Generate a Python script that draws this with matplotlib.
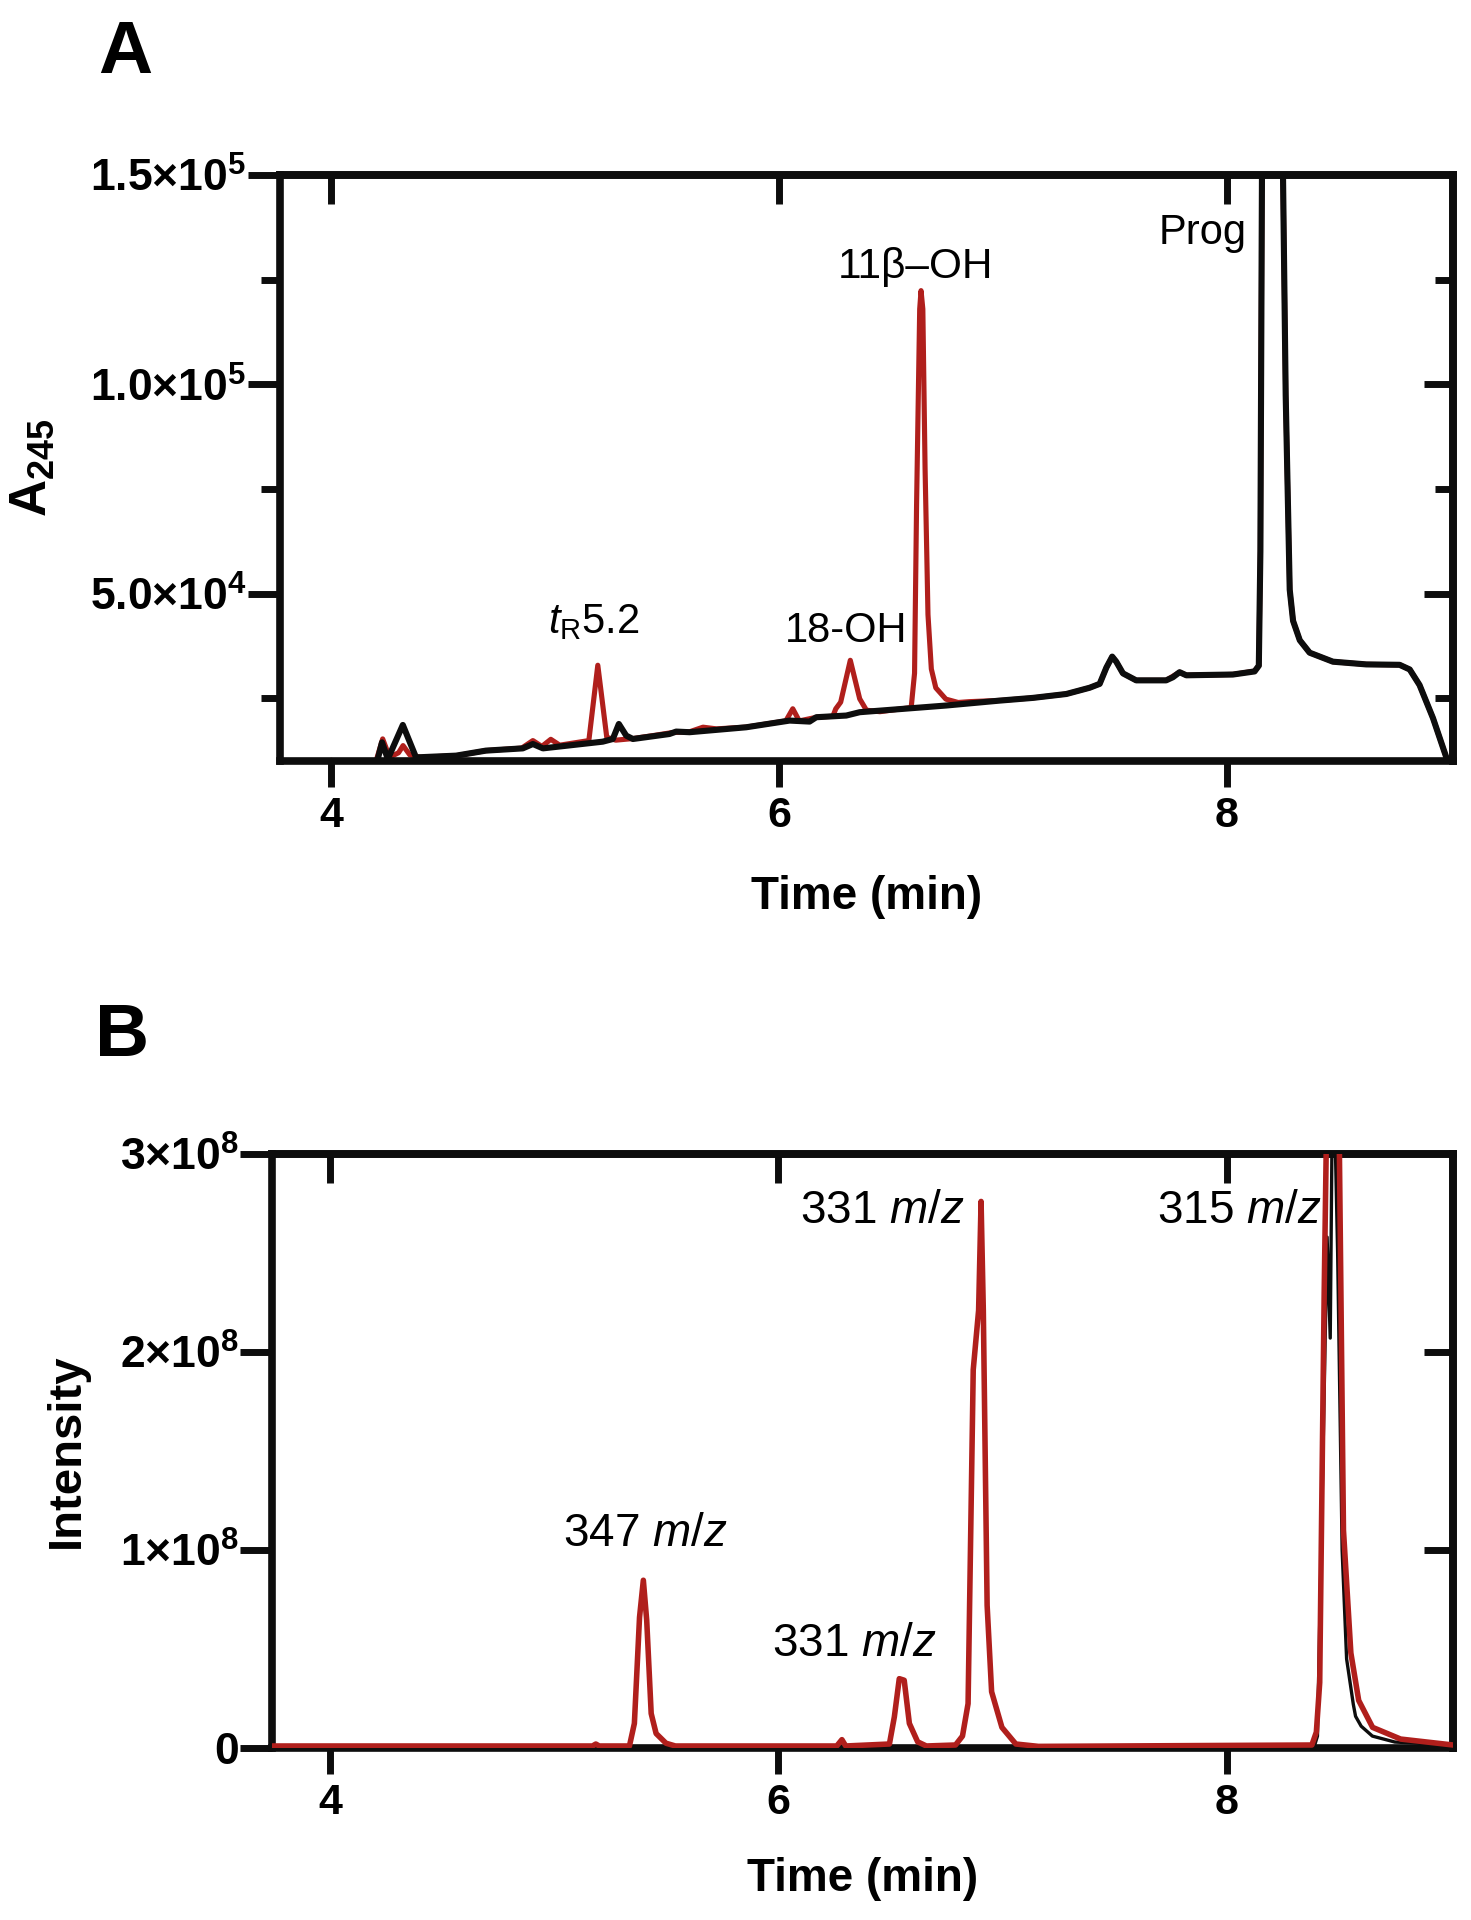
import matplotlib
matplotlib.use("Agg")
import matplotlib.pyplot as plt
from matplotlib.ticker import NullFormatter

plt.rcParams['font.family'] = ['Liberation Sans', 'DejaVu Sans']
plt.rcParams['mathtext.fontset'] = 'custom'
plt.rcParams['mathtext.rm'] = 'Liberation Sans'
plt.rcParams['mathtext.it'] = 'Liberation Sans:italic'
plt.rcParams['mathtext.bf'] = 'Liberation Sans:bold'

RED = '#b01f1c'
BLACK = '#0d0d0d'

# ---- Panel A: UV trace (A245) ----
a_black_t = [4.20, 4.226, 4.252, 4.319, 4.378, 4.557, 4.69, 4.855, 4.90, 4.945,
             5.212, 5.257, 5.284, 5.317, 5.347, 5.51, 5.54, 5.60, 5.853, 6.047,
             6.136, 6.166, 6.30, 6.36, 6.747, 6.985, 7.134, 7.283, 7.387, 7.432,
             7.462, 7.488, 7.506, 7.536, 7.595, 7.729, 7.759, 7.789, 7.819, 8.027,
             8.124, 8.143, 8.150, 8.157, 8.205, 8.251, 8.263, 8.281, 8.296, 8.326,
             8.37, 8.474, 8.623, 8.772, 8.817, 8.861, 8.921, 8.98, 9.01]
a_black_y = [9000, 14480, 10500, 18630, 10880, 11300, 12500, 13040, 14080, 13040,
             14640, 15270, 18870, 16080, 15280, 16470, 17050, 16900, 18080, 19680,
             19440, 20480, 20880, 21680, 23280, 24450, 25100, 26030, 27520, 28450,
             32350, 34960, 33750, 30960, 29290, 29290, 30030, 31240, 30500, 30680,
             31420, 32800, 60250, 150000, 700000, 150000, 97450, 50950, 43500, 38870,
             35900, 33750, 33100, 33000, 31890, 28170, 20270, 10970, 7000]

a_red_t = [3.95, 4.00, 4.05, 4.19, 4.205, 4.229, 4.26, 4.30, 4.32, 4.35,
           4.40, 4.56, 4.69, 4.85, 4.90, 4.94, 4.98, 5.02, 5.15, 5.19,
           5.23, 5.27, 5.35, 5.45, 5.52, 5.60, 5.66, 5.72, 5.85, 6.03,
           6.061, 6.09, 6.17, 6.24, 6.253, 6.275, 6.318, 6.36, 6.39, 6.45,
           6.59, 6.605, 6.614, 6.628, 6.634, 6.642, 6.652, 6.665, 6.68, 6.70,
           6.745, 6.80, 6.85, 6.99, 7.134, 7.283, 7.387, 7.432, 7.462, 7.488,
           7.506, 7.536, 7.595, 7.729, 7.789, 7.819, 8.027, 8.124, 8.143, 8.150,
           8.157, 8.205, 8.251, 8.263, 8.281, 8.296, 8.326, 8.37, 8.474, 8.623,
           8.772, 8.817, 8.861, 8.921, 8.98, 9.01]
a_red_y = [8000, 10200, 8000, 8000, 11000, 15300, 10900, 12000, 13700, 11500,
           10900, 11300, 12500, 13100, 14900, 13500, 15200, 13800, 14900, 32900,
           15700, 15000, 15400, 16200, 16800, 17000, 18100, 17700, 18100, 19600,
           22500, 19600, 20500, 20700, 22480, 24080, 34080, 24880, 22160, 21800,
           22800, 31000, 71000, 118000, 122400, 118000, 80000, 45000, 32000, 27500,
           24800, 24000, 24200, 24500, 25100, 26030, 27520, 28450, 32350, 34960,
           33750, 30960, 29290, 29290, 31240, 30500, 30700, 31500, 32800, 60250,
           150000, 700000, 150000, 97450, 50950, 43500, 38870, 35900, 33750, 33100,
           33000, 31890, 28170, 20270, 10970, 7000]

a_yticks = [5e4, 1e5, 1.5e5]
a_yminor = [2.5e4, 7.5e4, 1.25e5]
a_ylabels = [r'$\mathbf{5.0{\times}10^{4}}$', r'$\mathbf{1.0{\times}10^{5}}$',
             r'$\mathbf{1.5{\times}10^{5}}$']

# ---- Panel B: MS intensity ----
b_red_t = [3.74, 5.17, 5.185, 5.20, 5.335, 5.357, 5.38, 5.397, 5.412, 5.432,
           5.454, 5.498, 5.54, 6.26, 6.283, 6.30, 6.495, 6.517, 6.539, 6.561,
           6.584, 6.621, 6.66, 6.79, 6.821, 6.846, 6.869, 6.893, 6.904, 6.914,
           6.931, 6.951, 6.997, 7.059, 7.16, 8.38, 8.40, 8.415, 8.435, 8.445,
           8.475, 8.502, 8.521, 8.554, 8.589, 8.651, 8.776, 9.01]
b_red_y = [1.0e6, 1.0e6, 2.0e6, 1.0e6, 1.0e6, 1.24e7, 6.6e7, 8.47e7, 6.45e7, 1.74e7,
           7.3e6, 2.4e6, 1.0e6, 1.0e6, 4.2e6, 1.0e6, 2.0e6, 1.57e7, 3.5e7, 3.42e7,
           1.24e7, 3.1e6, 1.0e6, 1.5e6, 6.0e6, 2.24e7, 1.91e8, 2.21e8, 2.76e8, 2.21e8,
           7.2e7, 2.84e7, 1.04e7, 2.0e6, 0.8e6, 1.5e6, 8.0e6, 3.3e7, 2.3e8, 3.1e8,
           3.9e8, 3.1e8, 1.1e8, 4.8e7, 2.4e7, 1.04e7, 4.5e6, 1.5e6]

b_black_t = [3.74, 8.39, 8.405, 8.425, 8.448, 8.462, 8.474, 8.495, 8.515, 8.535,
             8.565, 8.575, 8.60, 8.65, 8.75, 9.01]
b_black_y = [0.5e6, 0.5e6, 6.0e6, 1.2e8, 2.58e8, 2.07e8, 3.6e8, 2.5e8, 1.0e8, 4.5e7,
             2.2e7, 1.6e7, 1.1e7, 6.0e6, 3.0e6, 1.5e6]

b_yticks = [0, 1e8, 2e8, 3e8]
b_ylabels = [r'$\mathbf{0}$', r'$\mathbf{1{\times}10^{8}}$', r'$\mathbf{2{\times}10^{8}}$',
             r'$\mathbf{3{\times}10^{8}}$']

xticks = [4, 6, 8]
xlabels = ['4', '6', '8']

fig = plt.figure(figsize=(14.71, 19.2), dpi=100)
axA = fig.add_axes([0.1903, 0.6036, 0.7974, 0.3052])
axB = fig.add_axes([0.1849, 0.0896, 0.8029, 0.3094])

SPW = 5.5
TKW = 5.0


def style_axes(ax, xlim, ylim, yticks, ylabels, yminor=None):
    ax.set_xlim(*xlim)
    ax.set_ylim(*ylim)
    for s in ax.spines.values():
        s.set_linewidth(SPW)
        s.set_color(BLACK)
    ax.set_xticks(xticks)
    ax.set_xticklabels(xlabels, fontweight='bold')
    ax.set_yticks(yticks)
    ax.set_yticklabels(ylabels)
    ax.tick_params(axis='x', which='major', direction='out', length=19, width=TKW,
                   labelsize=31, pad=6, color=BLACK)
    ax.tick_params(axis='y', which='major', direction='out', length=23, width=TKW,
                   labelsize=32, pad=1, color=BLACK)
    if yminor is not None:
        ax.set_yticks(yminor, minor=True)
        ax.tick_params(axis='y', which='minor', direction='out', length=14, width=TKW,
                       color=BLACK)
    # mirrored ticks pointing inward on top and right
    top = ax.secondary_xaxis('top')
    top.set_xticks(xticks)
    top.xaxis.set_major_formatter(NullFormatter())
    top.tick_params(direction='in', length=21, width=TKW, color=BLACK)
    top.spines['top'].set_linewidth(SPW)
    right = ax.secondary_yaxis('right')
    major_in = [t for t in yticks if ylim[0] < t < ylim[1]]
    right.set_yticks(major_in)
    right.yaxis.set_major_formatter(NullFormatter())
    right.tick_params(which='major', direction='in', length=21, width=TKW, color=BLACK)
    if yminor is not None:
        right.set_yticks(yminor, minor=True)
        right.tick_params(which='minor', direction='in', length=13, width=TKW, color=BLACK)
    right.spines['right'].set_linewidth(SPW)
    ax.set_xlabel('Time (min)', fontsize=33, fontweight='bold', va='top')


# Panel A
axA.plot(a_red_t, a_red_y, color=RED, lw=3.7, zorder=2, solid_joinstyle='round')
axA.plot(a_black_t, a_black_y, color=BLACK, lw=4.4, zorder=3, solid_joinstyle='round')
style_axes(axA, (3.77, 9.01), (1e4, 1.5e5), a_yticks, a_ylabels, a_yminor)
axA.set_ylabel(r'$\mathbf{A_{245}}$', fontsize=37)
axA.yaxis.set_label_coords(-0.19, 0.5)
axA.xaxis.set_label_coords(0.5, -0.195)

axA.text(5.17, 40500, r'$\mathit{t}_{\mathrm{R}}$5.2', fontsize=30, ha='center', va='baseline')
axA.text(6.30, 38500, '18-OH', fontsize=30, ha='center', va='baseline')
axA.text(6.61, 125500, '11β–OH', fontsize=30.5, ha='center', va='baseline')
axA.text(8.09, 133500, 'Prog', fontsize=30, ha='right', va='baseline')

# Panel B
axB.plot(b_black_t, b_black_y, color=BLACK, lw=2.4, zorder=2, solid_joinstyle='round')
axB.plot(b_red_t, b_red_y, color=RED, lw=4.0, zorder=3, solid_joinstyle='round')
style_axes(axB, (3.74, 9.01), (0, 3e8), b_yticks, b_ylabels)
axB.set_ylabel('Intensity', fontsize=34, fontweight='bold')
axB.yaxis.set_label_coords(-0.155, 0.5)
axB.xaxis.set_label_coords(0.5, -0.184)

axB.text(5.405, 1.02e8, r'347 $\mathit{m/z}$', fontsize=33, ha='center', va='baseline')
axB.text(6.337, 4.62e7, r'331 $\mathit{m/z}$', fontsize=33, ha='center', va='baseline')
axB.text(6.465, 2.65e8, r'331 $\mathit{m/z}$', fontsize=33, ha='center', va='baseline')
axB.text(8.057, 2.65e8, r'315 $\mathit{m/z}$', fontsize=33, ha='center', va='baseline')

fig.text(98 / 1471, 1 - 73 / 1920, 'A', fontsize=54, fontweight='bold', ha='left', va='baseline')
fig.text(95 / 1471, 1 - 1056 / 1920, 'B', fontsize=54, fontweight='bold', ha='left', va='baseline')

fig.savefig('out.png', dpi=100)
